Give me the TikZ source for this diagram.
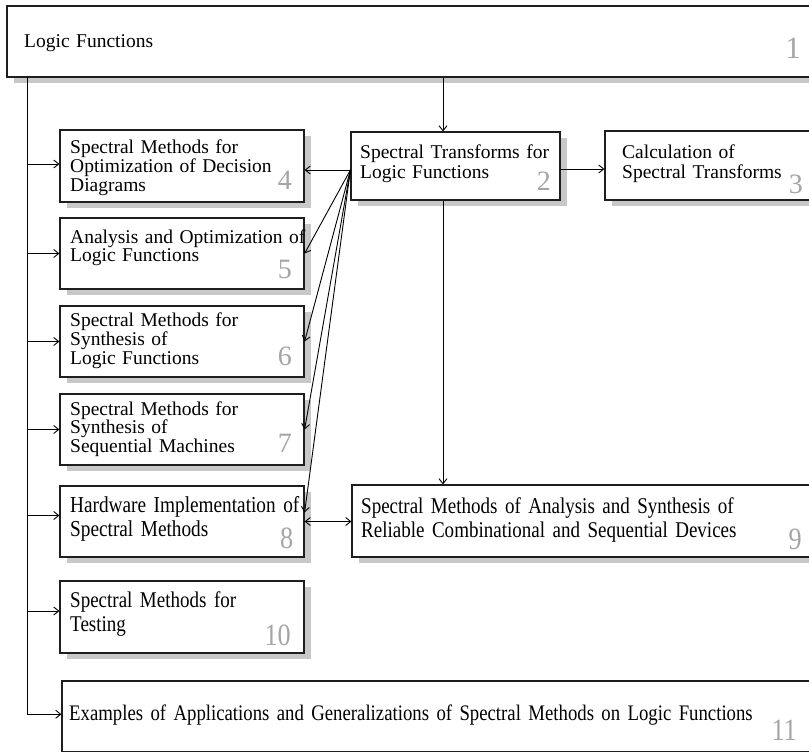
\documentclass[tikz,border=0pt]{standalone}
\usepackage{fontspec}
\setmainfont{Liberation Serif}
\newfontfamily\condfont[FakeStretch=0.845,WordSpace=0.85]{Liberation Serif}
\usetikzlibrary{arrows.meta,shadows,calc}
\definecolor{numgray}{RGB}{165,165,165}
\definecolor{boxline}{RGB}{30,30,30}
\definecolor{shadowgray}{RGB}{200,200,200}
\begin{document}
\begin{tikzpicture}[x=1pt,y=-1pt,
  box/.style={draw=boxline, line width=1.2pt, fill=white, rectangle, inner sep=0pt,
    drop shadow={shadow xshift=7pt, shadow yshift=-6pt, fill=shadowgray, opacity=1}},
  ta/.style={anchor=base west, inner sep=0pt, align=left, text width=320pt,
    font=\fontsize{19.5}{19}\selectfont},
  tc/.style={ta, text width=760pt, font=\condfont\fontsize{22.5}{24.5}\selectfont},
  num/.style={anchor=base east, inner sep=0pt, text=numgray, font=\fontsize{28}{28}\selectfont},
  numa/.style={num, font=\fontsize{31}{31}\selectfont},
  numc/.style={num, font=\condfont\fontsize{31}{31}\selectfont},
  arr/.style={line width=0.9pt, -{Straight Barb[length=5pt,width=8pt]}},
  darr/.style={line width=0.9pt, {Straight Barb[length=5pt,width=8pt]}-{Straight Barb[length=5pt,width=8pt]}},
  ln/.style={line width=0.9pt}]
\useasboundingbox (0,0) rectangle (809,752);
\clip (0,0) rectangle (809,752);

% boxes
\node[box, minimum width=833, minimum height=71] (b1) at (423.5,41.5) {};
\node[box, minimum width=209, minimum height=68] (b2) at (455.5,166) {};
\node[box, minimum width=235, minimum height=69] (b3) at (722.5,165.5) {};
\node[box, minimum width=244, minimum height=72] (b4) at (182,166) {};
\node[box, minimum width=244, minimum height=71] (b5) at (182,253.5) {};
\node[box, minimum width=244, minimum height=71] (b6) at (182,341.5) {};
\node[box, minimum width=244, minimum height=71] (b7) at (182,429.5) {};
\node[box, minimum width=244, minimum height=71] (b8) at (182,521.5) {};
\node[box, minimum width=488, minimum height=72] (b9) at (596,521) {};
\node[box, minimum width=244, minimum height=72] (b10) at (182,617) {};
\node[box, minimum width=778, minimum height=70.5] (b11) at (451,716.25) {};

% helper coordinates
\coordinate (spine) at (27,77);
\coordinate (ax) at (443,0);
\coordinate (fan) at ($(b2.west)+(0,4)$);
\coordinate (r23) at ($(b2.east)+(0,3)$);

% connectors
\draw[arr] (spine) |- ($(b11.west)+(0,-2)$);
\draw[arr] ($(spine |- b4.west)+(0,-2)$) -- ($(b4.west)+(0,-2)$);
\draw[arr] (spine |- b5.west) -- (b5.west);
\draw[arr] (spine |- b6.west) -- (b6.west);
\draw[arr] (spine |- b7.west) -- (b7.west);
\draw[arr] ($(spine |- b8.west)+(0,-6)$) -- ($(b8.west)+(0,-6)$);
\draw[arr] ($(spine |- b10.west)+(0,-6)$) -- ($(b10.west)+(0,-6)$);

\draw[arr] (b1.south -| ax) -- (b2.north -| ax);
\draw[arr] (b2.south -| ax) -- (b9.north -| ax);
\draw[arr] (r23) -- (r23 -| b3.west);
\draw[arr] (fan) -- (fan -| b4.east);
\draw[arr] (fan) -- (b5.east);
\draw[arr] (fan) -- (b6.east);
\draw[arr] (fan) -- (b7.east);
\draw[arr] (fan) -- ($(b8.east)+(0,-9)$);
\draw[darr] (b8.east) -- (b8.east -| b9.west);

% texts
\node[ta] (t1) at (24,47.3) {Logic Functions};
\node[ta, font=\fontsize{19.5}{20.5}\selectfont] (t2) at (360,158) {Spectral Transforms for\\Logic Functions};
\node[ta, font=\fontsize{19.5}{20.5}\selectfont] (t3) at (622,158) {Calculation of\\Spectral Transforms};
\node[ta] (t4) at (70,153) {Spectral Methods for\\Optimization of Decision\\Diagrams};
\node[ta, font=\fontsize{19.5}{18.5}\selectfont] (t5) at (70,243.3) {Analysis and Optimization of\\Logic Functions};
\node[ta] (t6) at (70,326.7) {Spectral Methods for\\Synthesis of\\Logic Functions};
\node[ta, font=\fontsize{19.5}{18.5}\selectfont] (t7) at (70,415) {Spectral Methods for\\Synthesis of\\Sequential Machines};
\node[tc, font=\condfont\fontsize{22.8}{24.5}\selectfont] (t8) at (70,512) {Hardware Implementation of\\Spectral Methods};
\node[tc, font=\condfont\fontsize{22.5}{24}\selectfont] (t9) at (361,513) {Spectral Methods of Analysis and Synthesis of\\Reliable Combinational and Sequential Devices};
\node[tc] (t10) at (70,607) {Spectral Methods for\\Testing};
\node[tc, font=\condfont\fontsize{22.2}{24}\selectfont] (t11) at (69,720.5) {Examples of Applications and Generalizations of Spectral Methods on Logic Functions};

% numbers
\node[numa] (n1) at (801,58.3) {1};
\node[num] (n2) at (551,190) {2};
\node[num] (n3) at (803,193) {3};
\node[num] (n4) at (292,189.3) {4};
\node[num] (n5) at (292,278.3) {5};
\node[num] (n6) at (292,365) {6};
\node[num] (n7) at (292,452.7) {7};
\node[numc] (n8) at (293.5,548.3) {8};
\node[numc] (n9) at (802,549) {9};
\node[numc] (n10) at (291,645) {10};
\node[numc] (n11) at (797,740) {11};
\end{tikzpicture}
\end{document}
